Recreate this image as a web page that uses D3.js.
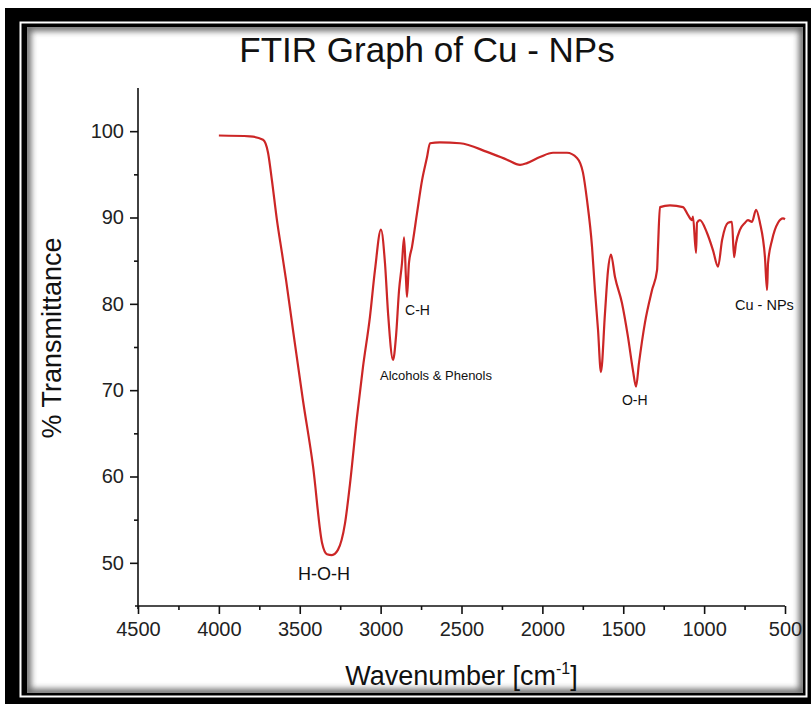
<!DOCTYPE html>
<html>
<head>
<meta charset="utf-8">
<script src="https://cdn.jsdelivr.net/npm/d3@7"></script>
<style>
  body { margin: 0; background: #fff; }
  text { font-family: Arial, "Liberation Sans", sans-serif; }
</style>
</head>
<body>
<div id="container"></div>
<script>
// Spectrum (wavenumber in cm-1, % transmittance)
var wavenumber = [4000, 3808, 3727, 3696, 3672, 3641, 3610, 3585, 3542, 3480, 3418, 3362, 3332, 3301, 3264, 3220, 3189, 3146, 3109, 3066, 3035,
  2998, 2973, 2954, 2923, 2905, 2886, 2868, 2855, 2843, 2837, 2825, 2806, 2775, 2744, 2713, 2695, 2633, 2509, 2342, 2219, 2138, 2095, 2015,
  1934, 1848, 1786, 1749, 1724, 1693, 1675, 1656, 1638, 1613, 1594, 1576, 1551, 1508, 1471, 1440, 1421, 1403, 1366, 1322, 1291, 1285, 1273,
  1211, 1131, 1100, 1075, 1069, 1050, 1044, 1026, 982, 945, 914, 889, 852, 828, 815, 803, 778, 747, 729, 704, 679, 655, 624, 611, 605, 580,
  543, 512, 500];
var transmittance = [99.5, 99.4, 99.0, 97.5, 94.3, 89.7, 85.9, 82.8, 77.0, 68.8, 61.2, 52.3, 51.0, 50.9, 51.5, 54.6, 59.2, 66.9, 72.7, 78.5, 83.9,
  88.6, 84.7, 78.9, 73.5, 76.2, 81.6, 84.7, 87.7, 82.8, 80.8, 84.7, 86.6, 90.5, 94.3, 97.0, 98.6, 98.7, 98.6, 97.6, 96.7, 96.1, 96.3, 97.0,
  97.5, 97.5, 96.9, 95.2, 92.0, 86.6, 81.6, 77.0, 72.1, 78.9, 83.9, 85.7, 83.1, 80.1, 76.2, 72.3, 70.4, 73.1, 77.8, 81.6, 83.9, 86.6, 91.2,
  91.4, 91.2, 90.3, 89.7, 90.1, 85.9, 89.4, 89.7, 88.2, 86.2, 84.3, 87.4, 89.4, 89.5, 85.4, 87.0, 88.6, 89.4, 89.7, 89.5, 90.9, 89.4, 85.4, 81.6, 84.7, 87.4,
  89.4, 89.9, 89.8];

// Axis ticks
var xTicks = [4500, 4000, 3500, 3000, 2500, 2000, 1500, 1000, 500];
var xMinor = [4250, 3750, 3250, 2750, 2250, 1750, 1250, 750];
var yTicks = [50, 60, 70, 80, 90, 100];
var yMinor = [55, 65, 75, 85, 95];

// Peak labels (anchored in data units)
var peakNames = ["H-O-H", "Alcohols & Phenols", "C-H", "O-H", "Cu - NPs"];
var peakWn = [3350, 3004, 2849, 1508, 809];
var peakT = [48.0, 71.2, 78.7, 68.3, 79.3];

// font size per label
var labelSize = {"H-O-H": 18, "Alcohols & Phenols": 13, "C-H": 14, "O-H": 14, "Cu - NPs": 14.5};

var width = 811, height = 704;
var margin = {top: 88, right: 26, bottom: 98, left: 138};

var svg = d3.select("#container")
  .append("svg")
  .attr("width", width)
  .attr("height", height);

// Frame: black border with a thin white line, white panel with inner shadow
var defs = svg.append("defs");
var blur = defs.append("filter").attr("id", "soft")
  .attr("x", "-5%").attr("y", "-5%").attr("width", "110%").attr("height", "110%");
blur.append("feGaussianBlur").attr("stdDeviation", 3);
defs.append("clipPath").attr("id", "panel")
  .append("rect").attr("x", 27).attr("y", 27).attr("width", 776).attr("height", 666);

svg.append("rect").attr("width", width).attr("height", height).attr("fill", "#fff");
svg.append("rect")
  .attr("x", 5).attr("y", 8)
  .attr("width", 806).attr("height", 696)
  .attr("fill", "#000");
svg.append("rect")
  .attr("x", 20.5).attr("y", 22.5)
  .attr("width", 786).attr("height", 674)
  .attr("fill", "none")
  .attr("stroke", "#fff")
  .attr("stroke-width", 2);
svg.append("rect")
  .attr("x", 27).attr("y", 27)
  .attr("width", 776).attr("height", 666)
  .attr("fill", "#fff");
svg.append("g").attr("clip-path", "url(#panel)")
  .append("rect")
  .attr("x", 27).attr("y", 27)
  .attr("width", 776).attr("height", 666)
  .attr("fill", "none")
  .attr("stroke", "#666")
  .attr("stroke-width", 8)
  .attr("filter", "url(#soft)");

// Scales
var x = d3.scaleLinear().domain([4500, 500]).range([margin.left, width - margin.right]);
var y = d3.scaleLinear().domain([45, 105]).range([height - margin.bottom, margin.top]);

// X axis (major + minor)
var xAxis = svg.append("g")
  .attr("transform", "translate(0," + y(45) + ")")
  .call(d3.axisBottom(x).tickValues(xTicks).tickSize(8).tickPadding(8).tickFormat(d3.format("d")));
svg.append("g")
  .attr("transform", "translate(0," + y(45) + ")")
  .call(d3.axisBottom(x).tickValues(xMinor).tickSize(4).tickFormat(""))
  .select(".domain").remove();
xAxis.select(".domain").attr("d", "M" + (margin.left - 3) + ",0H" + (width - margin.right));
xAxis.selectAll("text").attr("font-size", "20px").attr("fill", "#222");

// Y axis (major + minor)
var yAxis = svg.append("g")
  .attr("transform", "translate(" + margin.left + ",0)")
  .call(d3.axisLeft(y).tickValues(yTicks).tickSize(8).tickPadding(6));
svg.append("g")
  .attr("transform", "translate(" + margin.left + ",0)")
  .call(d3.axisLeft(y).tickValues(yMinor).tickSize(4).tickFormat(""))
  .select(".domain").remove();
yAxis.select(".domain").attr("d", "M0," + y(105) + "V" + (y(45) + 3));
yAxis.selectAll("text").attr("font-size", "20px").attr("fill", "#222");
svg.selectAll(".domain, .tick line").attr("stroke", "#111").attr("stroke-width", 1.6);

// Spectrum line
var line = d3.line()
  .x(function(d, i) { return x(wavenumber[i]); })
  .y(function(d) { return y(d); })
  .curve(d3.curveMonotoneX);

svg.append("path")
  .datum(transmittance)
  .attr("d", line)
  .attr("fill", "none")
  .attr("stroke", "#cc2626")
  .attr("stroke-width", 2.2)
  .attr("stroke-linejoin", "round");

// Peak labels
svg.selectAll(".peak")
  .data(peakNames)
  .enter().append("text")
  .attr("class", "peak")
  .attr("x", function(d, i) { return x(peakWn[i]); })
  .attr("y", function(d, i) { return y(peakT[i]); })
  .attr("text-anchor", function(d, i) { return i == 0 ? "middle" : "start"; })
  .attr("font-size", function(d) { return labelSize[d] + "px"; })
  .attr("fill", "#111")
  .text(function(d) { return d; });

// Title and axis labels
svg.append("text")
  .attr("x", 427).attr("y", 62)
  .attr("text-anchor", "middle")
  .attr("font-size", "35px")
  .attr("fill", "#111")
  .text("FTIR Graph of Cu - NPs");

var xLabel = svg.append("text")
  .attr("x", (x(4500) + x(500)) / 2).attr("y", 685)
  .attr("text-anchor", "middle")
  .attr("font-size", "27px")
  .attr("fill", "#111");
xLabel.append("tspan").text("Wavenumber [cm");
xLabel.append("tspan").attr("font-size", "16px").attr("dy", "-11").text("-1");
xLabel.append("tspan").attr("dy", "11").text("]");

svg.append("text")
  .attr("transform", "translate(61,338) rotate(-90)")
  .attr("text-anchor", "middle")
  .attr("font-size", "27px")
  .attr("fill", "#111")
  .text("% Transmittance");
</script>
</body>
</html>
